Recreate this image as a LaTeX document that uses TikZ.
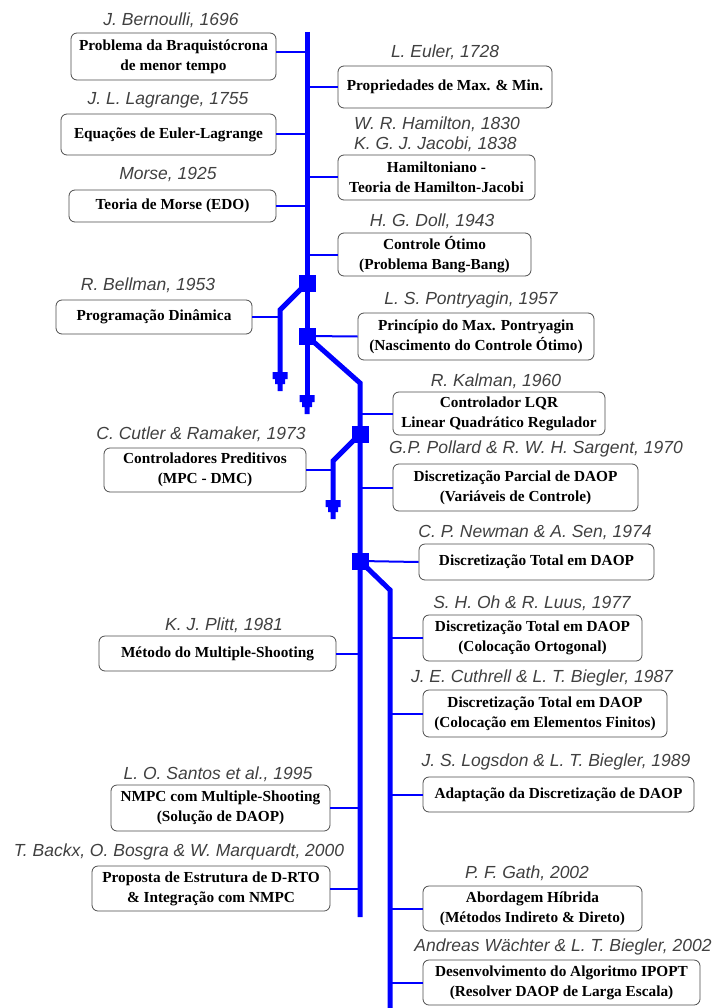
\documentclass[tikz,border=0pt]{standalone}
\usepackage{fontspec}
\setmainfont{Liberation Serif}
\newfontfamily\labfont{Liberation Sans}
\usetikzlibrary{calc}
\definecolor{tl}{RGB}{0,0,255}
\newcommand\droptip[1]{\fill[tl] ($(#1)+(-7.5,0)$) -- ++(15,0) -- ++(0,7) -- ++(-2.5,0) -- ++(0,5) -- ++(-2.5,0) -- ++(0,7) -- ++(-5,0) -- ++(0,-7) -- ++(-2.5,0) -- ++(0,-5) -- ++(-2.5,0) -- cycle;}
\begin{document}
\begin{tikzpicture}[x=1pt,y=-1pt,
 box/.style={draw=black!70, line width=0.8pt, rounded corners=6pt, fill=white, align=center, inner sep=0pt, font=\bfseries\fontsize{15.3}{20}\selectfont},
 bx/.style 2 args={box, minimum width=#1pt, minimum height=#2pt},
 lab/.style={font=\labfont\itshape\fontsize{17.5}{20}\selectfont, text=black!75, inner sep=0pt, align=left},
 heavy/.style={draw=tl, line width=5pt},
 conn/.style={draw=tl, line width=2pt},
 sq/.style={fill=tl, minimum size=17pt, inner sep=0pt},
]
\useasboundingbox (0,0) rectangle (712,1008);
% trunk coordinates
\coordinate (A0) at (307,32);
\coordinate (A1) at (307,395);
\coordinate (P1) at (280,310);
\coordinate (P1e) at (280,372);
\coordinate (B0) at (360,383);
\coordinate (B1) at (360,917);
\coordinate (P3) at (333,461);
\coordinate (P3e) at (333,500);
\coordinate (C0) at (390,590);
\coordinate (C1) at (390,1010);
\coordinate (S1) at (307,283);
\coordinate (S2) at (307,336);
\coordinate (S3) at (360,434);
\coordinate (S4) at (360,561);

% boxes
\node[bx={205}{47}] (L1) at (173.5,56.5) {Problema da Braquistócrona\\de menor tempo};
\node[bx={215}{41}] (L2) at (168.5,134.5) {Equações de Euler-Lagrange};
\node[bx={207}{32}] (L3) at (172.5,206) {Teoria de Morse (EDO)};
\node[bx={196}{34}] (L4) at (154,317) {Programação Dinâmica};
\node[bx={202}{44}] (L5) at (205,470) {Controladores Preditivos\\(MPC - DMC)};
\node[bx={237}{35}] (L6) at (217.5,653.5) {Método do Multiple-Shooting};
\node[bx={219}{46}] (L7) at (220.5,808) {NMPC com Multiple-Shooting\\(Solução de DAOP)};
\node[bx={238}{45}] (L8) at (211,888.5) {Proposta de Estrutura de D-RTO\\\& Integração com NMPC};

\node[bx={214}{42}] (R1) at (445,87) {Propriedades de Max. \& Min.};
\node[bx={197}{45}] (R2) at (436.5,177.5) {Hamiltoniano -\\Teoria de Hamilton-Jacobi};
\node[bx={193}{43}] (R3) at (434.5,254.5) {Controle Ótimo\\(Problema Bang-Bang)};
\node[bx={236}{47}] (R4) at (476,336.5) {Princípio do Max. Pontryagin\\(Nascimento do Controle Ótimo)};
\node[bx={212}{43}] (R5) at (499,413.5) {Controlador LQR\\Linear Quadrático Regulador};
\node[bx={245}{47}] (R6) at (515.5,487.5) {Discretização Parcial de DAOP\\(Variáveis de Controle)};
\node[bx={235}{36}] (R7) at (536.5,562) {Discretização Total em DAOP};
\node[bx={219}{46}] (R8) at (532.5,638) {Discretização Total em DAOP\\(Colocação Ortogonal)};
\node[bx={244}{47}] (R9) at (545,713.5) {Discretização Total em DAOP\\(Colocação em Elementos Finitos)};
\node[bx={271}{35}] (R10) at (558.5,794.5) {Adaptação da Discretização de DAOP};
\node[bx={219}{45}] (R11) at (532.5,908.5) {Abordagem Híbrida\\(Métodos Indireto \& Direto)};
\node[bx={277}{45}] (R12) at (561.5,982.5) {Desenvolvimento do Algoritmo IPOPT\\(Resolver DAOP de Larga Escala)};

% labels
\node[lab] (l1) at (171,20) {J. Bernoulli, 1696};
\node[lab] (r1) at (445,52) {L. Euler, 1728};
\node[lab] (l2) at (168,100) {J. L. Lagrange, 1755};
\node[lab] (r2) at (437,134) {W. R. Hamilton, 1830\\K. G. J. Jacobi, 1838};
\node[lab] (l3) at (168,175) {Morse, 1925};
\node[lab] (r3) at (432,221) {H. G. Doll, 1943};
\node[lab] (l4) at (148,285) {R. Bellman, 1953};
\node[lab] (r4) at (471,300) {L. S. Pontryagin, 1957};
\node[lab] (r5) at (496,381) {R. Kalman, 1960};
\node[lab] (l5) at (201,434) {C. Cutler \& Ramaker, 1973};
\node[lab] (r6) at (536,449) {G.P. Pollard \& R. W. H. Sargent, 1970};
\node[lab] (r7) at (535,533) {C. P. Newman \& A. Sen, 1974};
\node[lab] (r8) at (532,603) {S. H. Oh \& R. Luus, 1977};
\node[lab] (l6) at (224,625) {K. J. Plitt, 1981};
\node[lab] (r9) at (542,678) {J. E. Cuthrell \& L. T. Biegler, 1987};
\node[lab] (r10) at (556,762) {J. S. Logsdon \& L. T. Biegler, 1989};
\node[lab] (l7) at (218,774) {L. O. Santos et al., 1995};
\node[lab] (l8) at (179,852) {T. Backx, O. Bosgra \& W. Marquardt, 2000};
\node[lab] (r11) at (527,873) {P. F. Gath, 2002};
\node[lab] (r12) at (563,947) {Andreas Wächter \& L. T. Biegler, 2002};

% connectors
\draw[conn] ([yshift=4pt]L1.east) -- ([yshift=4pt]L1.east -| A0);
\draw[conn] (L2.east) -- (L2.east -| A0);
\draw[conn] (L3.east) -- (L3.east -| A0);
\draw[conn] (L4.east) -- (L4.east -| P1);
\draw[conn] (L5.east) -- (L5.east -| P3);
\draw[conn] (L6.east) -- (L6.east -| B0);
\draw[conn] (L7.east) -- (L7.east -| B0);
\draw[conn] (L8.east) -- (L8.east -| B0);
\draw[conn] (R1.west -| A0) -- (R1.west);
\draw[conn] (R2.west -| A0) -- (R2.west);
\draw[conn] (R3.west -| A0) -- (R3.west);
\draw[conn] (S2) -- (R4.west);
\draw[conn] (R5.west -| B0) -- (R5.west);
\draw[conn] (R6.west -| B0) -- (R6.west);
\draw[conn] (S4) -- (R7.west);
\draw[conn] (R8.west -| C0) -- (R8.west);
\draw[conn] (R9.west -| C0) -- (R9.west);
\draw[conn] (R10.west -| C0) -- (R10.west);
\draw[conn] (R11.west -| C0) -- (R11.west);
\draw[conn] (R12.west -| C0) -- (R12.west);

% trunks and branches
\draw[heavy] (A0) -- (A1);
\draw[heavy] (S1) -- (P1) -- (P1e);
\draw[heavy] (S2) -- (B0) -- (B1);
\draw[heavy] (S3) -- (P3) -- (P3e);
\draw[heavy] (S4) -- (C0) -- (C1);
\droptip{A1}
\droptip{P1e}
\droptip{P3e}
\node[sq] (sq1) at (S1) {};
\node[sq] (sq2) at (S2) {};
\node[sq] (sq3) at (S3) {};
\node[sq] (sq4) at (S4) {};
\end{tikzpicture}
\end{document}
